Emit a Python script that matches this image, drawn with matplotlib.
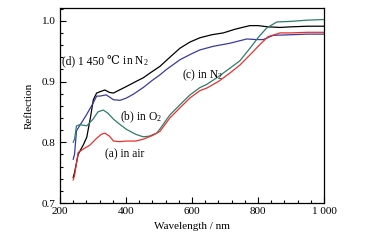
import matplotlib
matplotlib.use("Agg")
import matplotlib.pyplot as plt
import matplotlib.transforms as mtransforms
from matplotlib.ticker import MultipleLocator, FixedLocator, FixedFormatter

plt.rcParams['font.family'] = ['Liberation Serif', 'DejaVu Serif', 'Noto Sans CJK SC']
plt.rcParams['mathtext.fontset'] = 'custom'
plt.rcParams['mathtext.rm'] = 'Liberation Serif'
plt.rcParams['mathtext.it'] = 'Liberation Serif:italic'

# (a) in air
wl_a = [240, 244, 255, 271, 290, 310, 325, 336, 350, 362, 380, 402, 430, 452, 480, 503, 533, 564, 594, 624, 644, 680, 715, 745, 776, 806, 831, 850, 867, 900, 950, 1000]
r_a = [0.738, 0.745, 0.783, 0.789, 0.795, 0.806, 0.813, 0.815, 0.810, 0.802, 0.801, 0.802, 0.802, 0.805, 0.811, 0.818, 0.840, 0.857, 0.873, 0.885, 0.889, 0.900, 0.914, 0.927, 0.944, 0.961, 0.974, 0.977, 0.980, 0.980, 0.981, 0.981]

# (b) in O2
wl_b = [240, 244, 250, 260, 281, 300, 315, 331, 345, 362, 380, 402, 430, 452, 470, 493, 503, 533, 564, 594, 624, 644, 680, 715, 745, 776, 800, 826, 857, 900, 950, 1000]
r_b = [0.800, 0.805, 0.827, 0.829, 0.827, 0.838, 0.850, 0.853, 0.848, 0.838, 0.830, 0.821, 0.813, 0.809, 0.810, 0.815, 0.822, 0.845, 0.862, 0.878, 0.890, 0.895, 0.908, 0.922, 0.934, 0.955, 0.972, 0.988, 0.998, 0.999, 1.001, 1.002]

# (c) in N2
wl_c = [240, 244, 250, 265, 280, 301, 311, 321, 340, 362, 382, 402, 422, 452, 480, 503, 523, 564, 600, 624, 665, 715, 766, 796, 816, 846, 900, 950, 1000]
r_c = [0.772, 0.780, 0.819, 0.832, 0.845, 0.865, 0.876, 0.876, 0.878, 0.870, 0.869, 0.873, 0.879, 0.890, 0.902, 0.911, 0.920, 0.936, 0.946, 0.952, 0.958, 0.963, 0.970, 0.969, 0.969, 0.976, 0.977, 0.978, 0.978]

# (d) 1450 C in N2
wl_d = [240, 244, 255, 270, 281, 292, 301, 311, 325, 336, 350, 362, 380, 402, 430, 452, 473, 503, 533, 564, 594, 624, 660, 695, 730, 760, 776, 800, 830, 867, 900, 950, 1000]
r_d = [0.742, 0.750, 0.780, 0.795, 0.808, 0.840, 0.870, 0.881, 0.884, 0.886, 0.882, 0.881, 0.886, 0.892, 0.900, 0.906, 0.914, 0.925, 0.940, 0.955, 0.965, 0.972, 0.977, 0.980, 0.986, 0.990, 0.992, 0.992, 0.990, 0.989, 0.990, 0.991, 0.991]

x_ticks = [200, 400, 600, 800, 1000]
x_tick_labels = ['200', '400', '600', '800', '1 000']
y_ticks = [0.7, 0.8, 0.9, 1.0]
y_tick_labels = ['0.7', '0.8', '0.9', '1.0']

fig = plt.figure(figsize=(3.86, 2.45), dpi=100)
ax = fig.add_axes([60/386, 1-203/245, 264/386, 195/245])

ax.plot(wl_d, r_d, color='black', lw=0.9)
ax.plot(wl_c, r_c, color='#3a3aa0', lw=0.9)
ax.plot(wl_b, r_b, color='#2e7d6a', lw=0.9)
ax.plot(wl_a, r_a, color='#e8302e', lw=0.9)

ax.set_xlim(200, 1000)
ax.set_ylim(0.7, 1.021)
ax.xaxis.set_major_locator(FixedLocator(x_ticks))
ax.xaxis.set_major_formatter(FixedFormatter(x_tick_labels))
ax.xaxis.set_minor_locator(MultipleLocator(40))
ax.yaxis.set_major_locator(FixedLocator(y_ticks))
ax.yaxis.set_major_formatter(FixedFormatter(y_tick_labels))
ax.yaxis.set_minor_locator(MultipleLocator(0.02))
ax.tick_params(which='both', direction='in', labelsize=8, top=False, right=False, width=0.8)
ax.tick_params(which='major', length=4, pad=3)
ax.tick_params(which='minor', length=2)
for s in ax.spines.values():
    s.set_linewidth(0.9)

ax.set_xlabel('Wavelength / nm', fontsize=8, labelpad=4)
ax.set_ylabel('Reflection', fontsize=8, labelpad=6)

fs = 8.3
t1 = ax.text(206, 0.928, '(d) 1 450 ', fontsize=fs, va='baseline', ha='left')
fig.canvas.draw()
r = fig.canvas.get_renderer()
w1 = t1.get_window_extent(r).width
t2 = ax.text(206, 0.928, '\u2103', fontsize=fs, va='baseline', ha='left',
             family=['DejaVu Serif', 'Noto Sans CJK SC'],
             transform=mtransforms.offset_copy(ax.transData, fig=fig, x=w1, y=0, units='dots'))
fig.canvas.draw()
w2 = t2.get_window_extent(r).width
ax.text(206, 0.928, ' in N$_2$', fontsize=fs, va='baseline', ha='left',
        transform=mtransforms.offset_copy(ax.transData, fig=fig, x=w1 + w2, y=0, units='dots'))
ax.text(570, 0.905, '(c) in N$_2$', fontsize=fs, va='baseline', ha='left')
ax.text(382, 0.836, '(b) in O$_2$', fontsize=fs, va='baseline', ha='left')
ax.text(336, 0.775, '(a) in air', fontsize=fs, va='baseline', ha='left')

fig.savefig('out.png', dpi=100)
